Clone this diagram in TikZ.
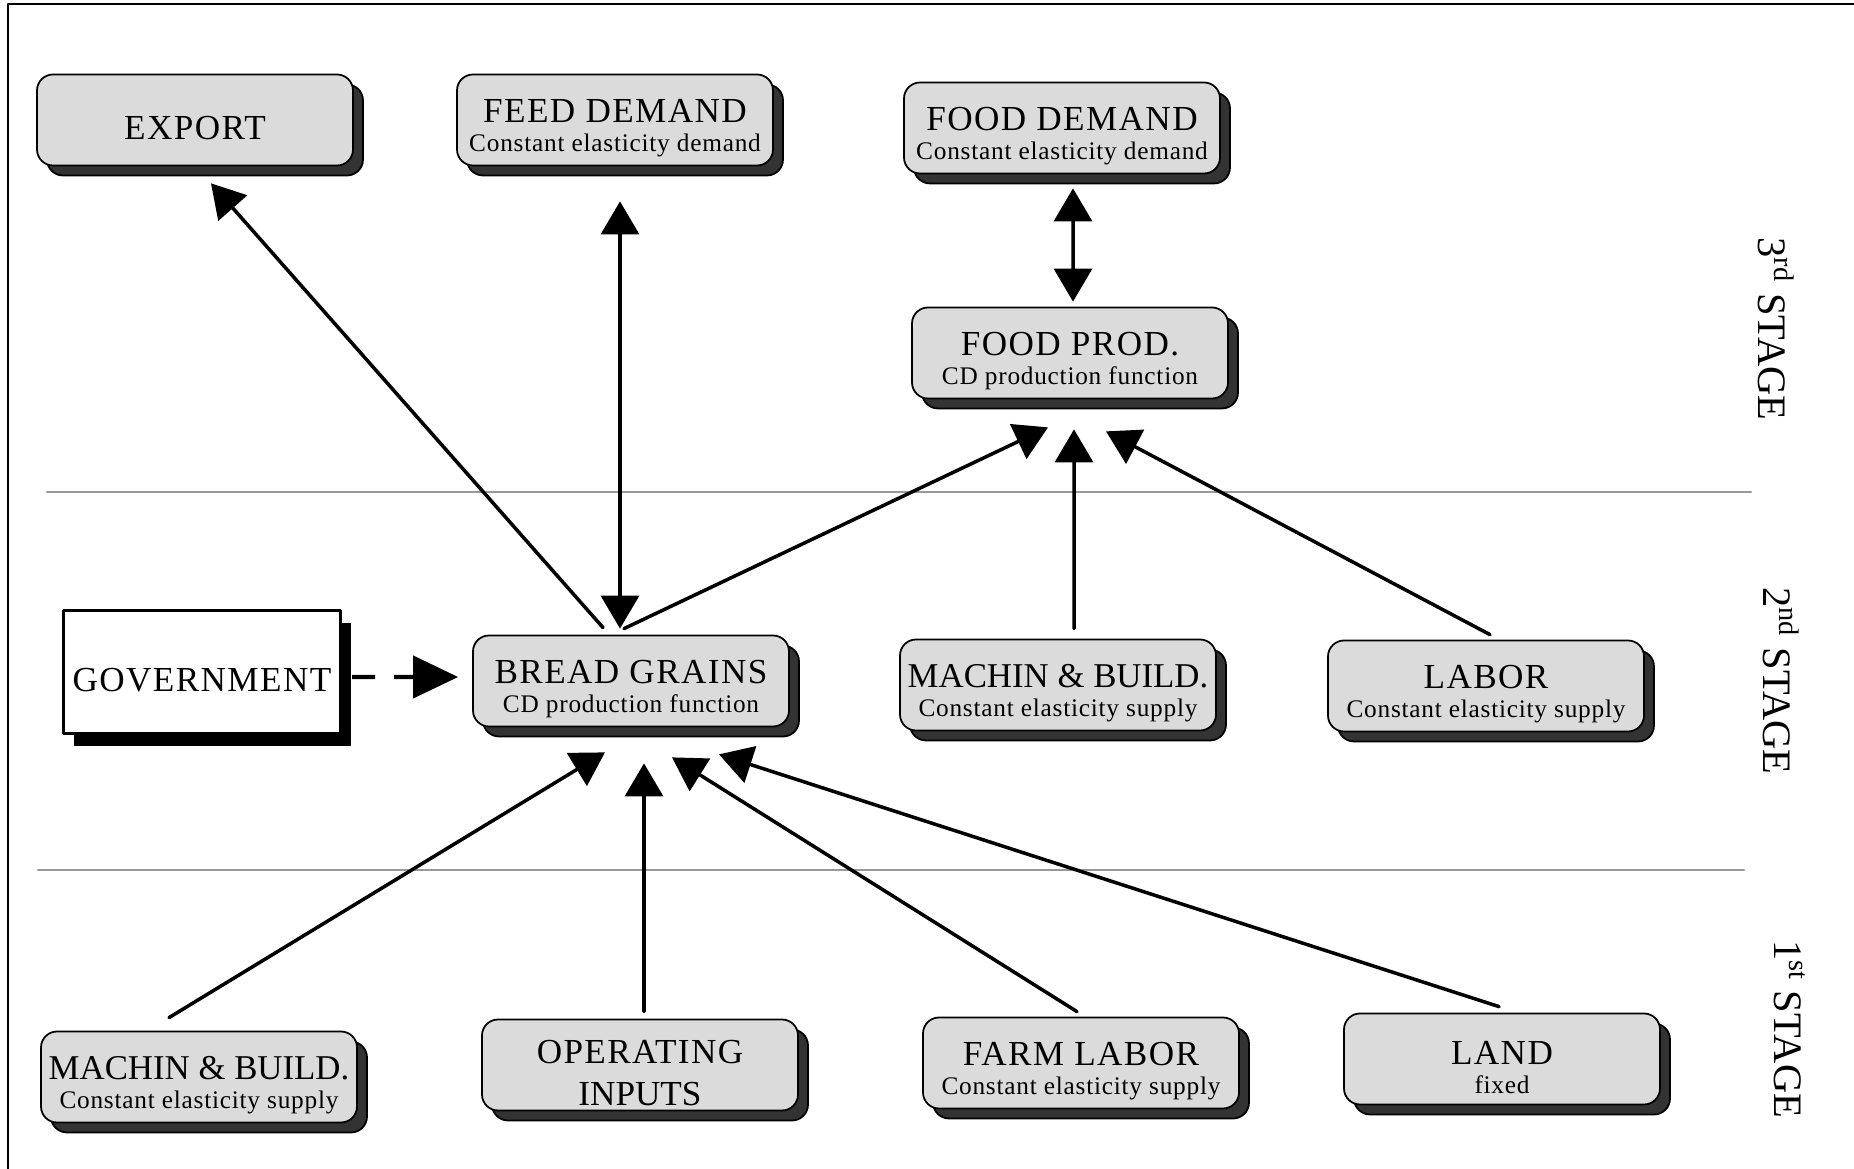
\documentclass[tikz,border=0pt]{standalone}
\usepackage{fontspec}
\setmainfont{Liberation Serif}
\newfontfamily\spacedserif[LetterSpace=4]{Liberation Serif}
\newfontfamily\smallserif[LetterSpace=3]{Liberation Serif}
\newcommand{\ttl}{\spacedserif\fontsize{10}{12.3}\selectfont}
\newcommand{\ttlnarrow}{\rmfamily\fontsize{9.9}{12.3}\selectfont}
\newcommand{\subttl}{\smallserif\fontsize{7.2}{9}\selectfont}
\newcommand{\stagefont}{\fontsize{11.5}{13}\selectfont}
\newcommand{\upstrut}{\rule{0pt}{11.4pt}}
\usepackage{tikz}
\usetikzlibrary{arrows.meta,shadows}

\begin{document}
\begin{tikzpicture}[line cap=round,line join=round,>={Triangle[length=3.3mm,width=3.8mm]},x=0.1mm,y=-0.1mm,
  gbox/.style={draw,line width=0.5pt,fill=black!14,rounded corners=1.6mm,minimum width=31.6mm,minimum height=9.1mm,inner sep=0pt,align=center,
    drop shadow={shadow xshift=1mm,shadow yshift=-1mm,fill=black!80,draw=black,opacity=1}},
  govbox/.style={draw,line width=0.9pt,fill=white,minimum width=27.7mm,minimum height=12.3mm,inner sep=0pt,
    drop shadow={shadow xshift=1mm,shadow yshift=-1.3mm,fill=black,opacity=1}},
  link/.style={->,line width=1pt},
  sep/.style={line width=0.6pt,black!40},
  stage/.style={rotate=-90,font=\stagefont}]
\useasboundingbox (0,0) rectangle (1854,1169);

\draw[line width=0.8pt] (8,1169)--(8,4)--(1854,4);

\draw[sep] (47,492)--(1751,492);
\draw[sep] (38,870)--(1744,870);

% 3rd stage
\node[gbox] (export) at (195,120) {\ttl\upstrut EXPORT};
\node[gbox] (feeddem) at (615,120) {\ttl\upstrut FEED DEMAND\\[-3.8pt]\subttl Constant elasticity demand};
\node[gbox] (fooddem) at (1062,128) {\ttl\upstrut FOOD DEMAND\\[-3.8pt]\subttl Constant elasticity demand};
\node[gbox] (foodprod) at (1070,353) {\ttl\upstrut FOOD PROD.\\[-3.8pt]\subttl CD production function};

% 2nd stage
\node[govbox] (gov) at (202,672) {\ttl\upstrut GOVERNMENT};
\node[gbox] (bread) at (631,681) {\ttl\upstrut BREAD GRAINS\\[-3.8pt]\subttl CD production function};
\node[gbox] (machin2) at (1058,685) {\ttlnarrow\upstrut MACHIN \& BUILD.\\[-3.8pt]\subttl Constant elasticity supply};
\node[gbox] (labor) at (1486,686) {\ttl\upstrut LABOR\\[-3.8pt]\subttl Constant elasticity supply};

% 1st stage
\node[gbox] (machin1) at (199,1077) {\ttlnarrow\upstrut MACHIN \& BUILD.\\[-3.8pt]\subttl Constant elasticity supply};
\node[gbox] (opinputs) at (640,1065) {\ttl\upstrut OPERATING\\INPUTS};
\node[gbox] (farmlabor) at (1081,1063) {\ttl\upstrut FARM LABOR\\[-3.8pt]\subttl Constant elasticity supply};
\node[gbox] (land) at (1502,1059) {\ttl\upstrut LAND\\[-3.8pt]\subttl fixed};

\node[stage] (st3) at (1776,329) {3\textsuperscript{rd} STAGE};
\node[stage] (st2) at (1781,681) {2\textsuperscript{nd} STAGE};
\node[stage] (st1) at (1790,1029) {1\textsuperscript{st} STAGE};

\draw[link] ([xshift=-2.8mm,yshift=0.7mm]bread.north)--([xshift=1.6mm,yshift=-1.7mm]export.south);
\draw[link,<->] ([xshift=-1.1mm,yshift=0.6mm]bread.north)--([xshift=0.5mm,yshift=-3.5mm]feeddem.south);
\draw[link] ([xshift=-0.7mm,yshift=0.6mm]bread.north)--([xshift=-2.2mm,yshift=-2.8mm]foodprod.south);
\draw[link] ([xshift=1.6mm,yshift=1mm]machin2.north)--([xshift=0.4mm,yshift=-3mm]foodprod.south);
\draw[link] ([xshift=0.4mm,yshift=0.5mm]labor.north)--([xshift=3.6mm,yshift=-3.2mm]foodprod.south);
\draw[link,<->] ([xshift=1.1mm,yshift=-1.4mm]fooddem.south)--([xshift=0.3mm,yshift=0.5mm]foodprod.north);

\draw[link] ([xshift=-3mm,yshift=1.3mm]machin1.north)--([xshift=-2.6mm,yshift=-2.5mm]bread.south);
\draw[link] ([xshift=0.4mm,yshift=0.7mm]opinputs.north)--([xshift=1.3mm,yshift=-3.6mm]bread.south);
\draw[link] ([xshift=-0.4mm,yshift=0.5mm]farmlabor.north)--([xshift=4.1mm,yshift=-3mm]bread.south);
\draw[link] ([xshift=-0.3mm,yshift=0.6mm]land.north)--([xshift=8.8mm,yshift=-2.7mm]bread.south);

\draw[line width=1.2pt,line cap=butt,dash pattern=on 2.3mm off 1.9mm,-{Triangle[length=4.5mm,width=4.2mm]}]
  ([xshift=1mm,yshift=-0.5mm]gov.east)--([xshift=-1.4mm,yshift=0.4mm]bread.west);

\end{tikzpicture}
\end{document}
